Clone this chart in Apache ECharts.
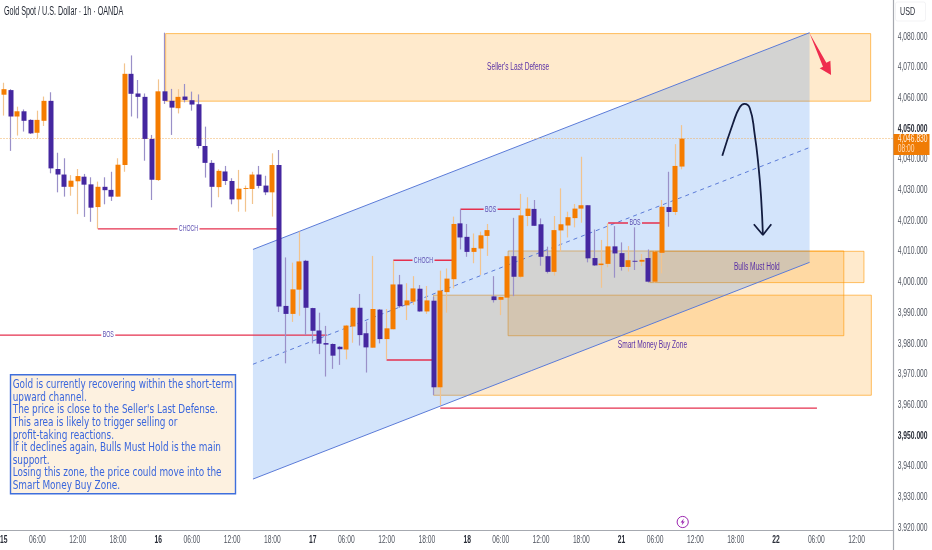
<!DOCTYPE html>
<html><head><meta charset="utf-8">
<style>html,body{margin:0;padding:0;background:#fff}#c{width:932px;height:550px}</style>
<script src="https://cdn.jsdelivr.net/npm/echarts@6/dist/echarts.min.js"></script>
</head><body><div id="c"></div>
<script>
const opens=[4061.1,4062.6,4054.0,4055.7,4052.9,4048.7,4052.6,4059.1,4036.9,4035.1,4031.1,4032.9,4034.4,4031.9,4024.5,4031.1,4030.1,4027.9,4038.2,4067.9,4061.5,4060.4,4046.7,4033.3,4062.2,4059.1,4056.7,4060.5,4059.3,4058.0,4044.4,4038.9,4031.0,4036.1,4033.0,4027.0,4030.4,4030.4,4035.1,4031.5,4029.3,4038.2,3992.3,3989.7,3997.6,4007.0,3991.6,3984.3,3980.2,3979.9,3979.0,3978.1,3985.6,3991.7,3983.4,3978.7,3991.1,3981.5,3984.7,3999.3,3992.5,3993.7,3997.9,3990.5,3994.0,3965.8,3996.8,4001.0,4019.2,4014.8,4009.9,4011.0,4015.1,3995.4,3994.3,3995.0,4008.5,4001.8,4021.6,4023.9,4018.9,4008.5,4003.4,4016.9,4018.5,4020.9,4024.0,4025.1,4007.9,4005.6,4006.0,4011.7,4009.5,4005.0,4007.0,4006.7,4007.9,4000.2,4009.6,4024.5,4022.9,4037.7];
const closes=[4062.9,4054.0,4055.7,4052.6,4048.5,4052.9,4059.1,4037.1,4035.1,4031.1,4033.1,4034.6,4031.8,4024.3,4031.1,4030.0,4027.9,4038.3,4067.9,4061.4,4060.4,4046.7,4033.4,4062.2,4059.1,4056.9,4060.4,4059.4,4057.9,4044.4,4038.9,4031.1,4036.3,4033.0,4027.0,4030.5,4030.7,4035.1,4031.4,4029.3,4038.2,3992.1,3989.7,3997.7,4006.8,3991.7,3984.2,3980.0,3979.7,3976.1,3978.2,3985.9,3991.7,3982.8,3978.8,3991.3,3981.5,3985.0,3999.3,3992.2,3994.1,3998.0,3990.5,3994.1,3965.8,3997.3,4001.2,4019.0,4014.6,4009.9,4011.2,4015.3,4017.0,3994.2,3995.2,4008.5,4001.8,4021.8,4024.0,4018.4,4008.3,4003.4,4017.0,4018.9,4021.2,4024.0,4025.1,4007.8,4005.5,4006.1,4011.7,4009.4,4005.0,4007.2,4006.7,4007.3,4000.2,4010.0,4024.6,4022.9,4037.9,4046.8];
const highs=[4065.0,4062.9,4057.2,4056.3,4053.1,4055.9,4060.5,4061.9,4042.2,4040.4,4034.9,4036.9,4035.3,4034.2,4032.8,4034.2,4036.0,4040.4,4071.3,4073.9,4065.9,4061.5,4048.0,4066.1,4081.3,4063.0,4062.9,4064.6,4062.1,4061.2,4050.7,4039.8,4036.8,4037.9,4033.9,4036.6,4031.5,4036.0,4037.9,4034.7,4042.0,4043.1,4008.1,4006.4,4016.5,4007.3,3991.7,3990.1,3985.8,3980.1,3979.2,3986.1,3991.8,3996.2,3987.2,4008.6,3991.3,3991.3,4007.0,4002.4,3999.7,4002.0,3999.1,3998.8,3995.3,4003.8,4004.5,4021.4,4023.8,4019.0,4015.9,4016.5,4019.0,4002.0,3995.3,4008.7,4021.0,4028.8,4027.7,4026.8,4020.8,4011.6,4021.6,4030.6,4023.0,4025.5,4040.9,4025.1,4017.2,4013.8,4019.2,4018.3,4013.0,4011.8,4017.9,4009.2,4010.7,4010.5,4026.8,4036.0,4045.0,4051.2];
const lows=[4054.3,4042.8,4047.8,4049.1,4048.3,4046.8,4050.9,4035.5,4029.3,4027.9,4028.2,4022.2,4021.3,4019.7,4017.4,4025.4,4026.5,4027.9,4036.0,4054.0,4053.4,4039.6,4026.8,4033.0,4058.1,4048.0,4055.0,4058.6,4055.9,4043.6,4034.1,4024.4,4027.7,4031.7,4025.4,4023.0,4023.0,4025.5,4030.6,4028.4,4021.4,3990.3,3973.6,3987.1,3989.1,3982.8,3980.1,3976.6,3969.3,3971.8,3973.1,3974.9,3980.3,3979.4,3970.6,3978.7,3980.1,3974.9,3984.7,3991.7,3987.7,3992.6,3990.4,3989.7,3963.3,3960.0,3990.1,3998.0,4010.7,4008.3,4006.2,4002.4,4008.6,3993.4,3989.3,3994.8,3995.5,4001.3,4018.3,4018.4,4005.4,4002.9,4002.2,4010.0,4014.6,4017.9,4019.4,4006.5,4005.3,3998.2,4004.9,4001.5,4003.8,4003.5,4004.0,4005.3,3999.9,3999.9,4002.9,4018.1,4021.9,4036.8];

const priceTicks=[3920,3930,3940,3950,3960,3970,3980,3990,4000,4010,4020,4030,4040,4050,4060,4070,4080];
const boldPrices=[4050,3950];
const timeTickIndex=[0,5,11,17,23,28,34,40,46,51,57,63,69,74,80,86,92,97,103,109,115,121,127];
const timeTickText=['15','06:00','12:00','18:00','16','06:00','12:00','18:00','17','06:00','12:00','18:00','18','06:00','12:00','18:00','21','06:00','12:00','18:00','22','06:00','12:00'];
const lastPrice=4046.83;
const lastPriceText='4,046.830';
const countdownText='08:00';
const barSlots=133;

// [bar from, bar to, price top, price bottom, label]
const zones=[
 [24.1,129.1,4081.0,4059.0,"Seller's Last Defense"],
 [75.1,125.1,4010.2,3982.6,""],
 [96.2,128.1,4010.1,3999.9,"Bulls Must Hold"],
 [64.0,129.2,3995.8,3963.2,"Smart Money Buy Zone"]
];
// channel: [left bar, right bar, left price, right price]
const channelUpper=[37.1,120.0,4010.7,4081.3];
const channelMiddle=[37.1,120.0,3973.3,4043.9];
const channelLower=[37.1,120.0,3935.9,4006.5];
// [bar from, bar to, price, label]
const structureLines=[
 [14,41,4017.4,'CHOCH'],
 [-17.0,48.1,3982.8,'BOS'],
 [58,67,4007.2,'CHOCH'],
 [68,77,4023.8,'BOS'],
 [90,98,4019.3,'BOS'],
 [57,64,3974.7,''],
 [65,121.1,3959.0,'']
];
const curvePath=[[107.0,4041.2],[108.6,4051.8],[109.6,4057.0],[110.3,4058.1],[111.1,4056.7],[111.8,4048.6],[112.4,4037.7],[112.8,4026.9],[113.05,4015.4]];
const curveHead=[[111.7,4018.9],[113.05,4015.4],[114.3,4018.9]];
const redArrow=[[120.0,4081.1],[122.0,4070.2],[121.5,4069.7],[123.2,4067.5],[123.1,4072.2],[122.5,4071.5]];
const noteText=["Gold is currently recovering within the short-term","upward channel.","The price is close to the Seller's Last Defense.","This area is likely to trigger selling or","profit-taking reactions.","If it declines again, Bulls Must Hold is the main","support.","Losing this zone, the price could move into the","Smart Money Buy Zone."];

const UP='#f57c00',DOWN='#4527a0',LABEL='#5a31a6',FONT='"Liberation Sans",sans-serif';
const NOTEFONT='"DejaVu Sans Condensed","DejaVu Sans",sans-serif';
const XMIN=-0.5,XMAX=132.5,YMIN=3919.15,YMAX=4091.95;
const cats=Array.from({length:barSlots},(_,i)=>String(i));
const wickData=opens.map((o,i)=>[o,closes[i],lows[i],highs[i]]);
const bodyData=opens.map((o,i)=>[o,closes[i],Math.min(o,closes[i]),Math.max(o,closes[i])]);

const fmtPrice=v=>{const s=v.toFixed(3);return s.slice(0,1)+','+s.slice(1)};
const sq=(text,x,y,font,fill,sx,align,va)=>({type:'text',x:x,y:y,scaleX:sx,style:{text:text,x:0,y:0,align:align||'center',verticalAlign:va||'middle',fill:fill,font:font}});
const chart=echarts.init(document.getElementById('c'),null,{renderer:'canvas'});
chart.setOption({
 animation:false,
 backgroundColor:'#fff',
 grid:{left:0.5,top:0,width:893,height:530.5,containLabel:false,outerBoundsMode:'none'},
 xAxis:[
  {type:'category',data:cats,boundaryGap:true,
   axisLine:{onZero:false,lineStyle:{color:'#a6a9b0',width:1.2}},axisTick:{show:false},splitLine:{show:false},axisLabel:{show:false}},
  {type:'value',min:XMIN,max:XMAX,show:false,splitLine:{show:false}}
 ],
 yAxis:{type:'value',position:'right',min:YMIN,max:YMAX,
   axisLine:{show:true,onZero:false,lineStyle:{color:'#a6a9b0',width:1.2}},axisTick:{show:false},splitLine:{show:false},axisLabel:{show:false}},
 series:[
  {type:'custom',name:'zones',xAxisIndex:1,coordinateSystem:'cartesian2d',z:1,clip:true,silent:true,
   data:zones.map(z=>z.slice(0,4)),encode:{x:[0,1],y:[2,3]},
   renderItem:(p,api)=>{
     const a=api.coord([api.value(0),api.value(2)]),b=api.coord([api.value(1),api.value(3)]);
     return {type:'rect',shape:{x:a[0],y:a[1],width:b[0]-a[0],height:b[1]-a[1]},
       style:{fill:'rgba(255,152,0,0.2)',stroke:'rgba(255,152,0,0.6)',lineWidth:1}};
   }},
  {type:'custom',name:'channel',xAxisIndex:1,coordinateSystem:'cartesian2d',z:2,clip:true,silent:true,
   data:[[channelUpper[0],channelUpper[1],channelUpper[2],channelUpper[3],channelLower[2],channelLower[3],channelMiddle[2],channelMiddle[3]]],
   encode:{x:[0,1],y:[2,3,4,5]},
   renderItem:(p,api)=>{
     const x0=api.value(0),x1=api.value(1);
     const ul=api.coord([x0,api.value(2)]),ur=api.coord([x1,api.value(3)]),ll=api.coord([x0,api.value(4)]),lr=api.coord([x1,api.value(5)]),ml=api.coord([x0,api.value(6)]),mr=api.coord([x1,api.value(7)]);
     return {type:'group',children:[
       {type:'polygon',shape:{points:[ul,ur,lr,ll]},style:{fill:'rgba(33,120,235,0.2)'}},
       {type:'line',shape:{x1:ul[0],y1:ul[1],x2:ur[0],y2:ur[1]},style:{stroke:'#5b7bd8',lineWidth:1}},
       {type:'line',shape:{x1:ll[0],y1:ll[1],x2:lr[0],y2:lr[1]},style:{stroke:'#5b7bd8',lineWidth:1}},
       {type:'line',shape:{x1:ml[0],y1:ml[1],x2:mr[0],y2:mr[1]},style:{stroke:'#5b7bd8',lineWidth:1,lineDash:[4,4]}}
     ]};
   }},
  {type:'custom',name:'zoneLabels',xAxisIndex:1,coordinateSystem:'cartesian2d',z:6,silent:true,
   data:zones.filter(z=>z[4]).map(z=>z.slice(0,4)),encode:{x:[0,1],y:[2,3]},
   renderItem:(p,api)=>{
     const z=zones.filter(z=>z[4])[p.dataIndex];
     const c=api.coord([(z[0]+z[1])/2,(z[2]+z[3])/2]);
     return sq(z[4],c[0],c[1],'10px '+FONT,LABEL,0.66);
   }},
  {type:'candlestick',name:'wicks',xAxisIndex:0,z:4,barWidth:1,silent:true,
   itemStyle:{color:'transparent',color0:'transparent',borderColor:'#f2c48e',borderColor0:'#9a90c8',borderWidth:1.2},
   data:wickData},
  {type:'candlestick',name:'bodies',xAxisIndex:0,z:5,barWidth:5.4,silent:true,
   itemStyle:{color:UP,color0:DOWN,borderColor:UP,borderColor0:DOWN,borderWidth:0},
   data:bodyData,
   markLine:{silent:true,symbol:'none',animation:false,
     lineStyle:{color:'#f0b060',type:[1,2],width:1},
     label:{show:false},
     data:[{yAxis:lastPrice}]}},
  {type:'custom',name:'structure',xAxisIndex:1,coordinateSystem:'cartesian2d',z:3,clip:true,silent:true,
   data:structureLines.map(s=>s.slice(0,3)),encode:{x:[0,1],y:2},
   renderItem:(p,api)=>{
     const s=structureLines[p.dataIndex];
     const a=api.coord([s[0],s[2]]),b=api.coord([s[1],s[2]]);
     const st={stroke:'#e5304e',lineWidth:1.4};
     if(!s[3])return {type:'line',shape:{x1:a[0],y1:a[1],x2:b[0],y2:b[1]},style:st};
     const mid=(a[0]+b[0])/2,gap=s[3]==='CHOCH'?11:7;
     return {type:'group',children:[
       {type:'line',shape:{x1:a[0],y1:a[1],x2:mid-gap,y2:a[1]},style:st},
       {type:'line',shape:{x1:mid+gap,y1:a[1],x2:b[0],y2:a[1]},style:st},
       sq(s[3],mid,a[1],'8.5px '+FONT,'#5b4db0',0.62)
     ]};
   }},
  {type:'line',name:'curve',xAxisIndex:1,z:7,data:curvePath,smooth:0.5,showSymbol:false,symbol:'none',silent:true,lineStyle:{color:'#131c3f',width:1.8}},
  {type:'line',name:'curveHead',xAxisIndex:1,z:7,data:curveHead,showSymbol:false,symbol:'none',silent:true,lineStyle:{color:'#131c3f',width:1.8}},
  {type:'custom',name:'redArrow',xAxisIndex:1,coordinateSystem:'cartesian2d',z:7,silent:true,
   data:[redArrow.flat()],encode:{x:[0,2,4,6,8,10],y:[1,3,5,7,9,11]},
   renderItem:(p,api)=>({type:'polygon',shape:{points:redArrow.map(q=>api.coord(q))},style:{fill:'#ef2d4e'}})},
  {type:'custom',name:'priceTickLabels',xAxisIndex:1,coordinateSystem:'cartesian2d',z:10,silent:true,clip:false,
   data:priceTicks.map(v=>[XMAX,v]),encode:{x:0,y:1},
   renderItem:(p,api)=>{
     const v=api.value(1),c=api.coord([XMAX,v]),b=boldPrices.includes(v);
     return sq(fmtPrice(v),c[0]+4.2,c[1],(b?'bold ':'')+'10.5px '+FONT,b?'#2a2e39':'#4f545f',0.64,'left');
   }},
  {type:'custom',name:'timeTickLabels',xAxisIndex:1,coordinateSystem:'cartesian2d',z:10,silent:true,clip:false,
   data:timeTickIndex.map(v=>[v,YMIN]),encode:{x:0,y:1},
   renderItem:(p,api)=>{
     const c=api.coord([api.value(0),YMIN]),t=timeTickText[p.dataIndex],b=t.length<3;
     return sq(t,c[0],c[1]+9.5,(b?'bold ':'')+'10.5px '+FONT,b?'#2a2e39':'#4f545f',0.64);
   }},
  {type:'custom',name:'lastPriceTag',xAxisIndex:1,coordinateSystem:'cartesian2d',z:12,silent:true,clip:false,
   data:[[XMAX,lastPrice]],encode:{x:0,y:1},
   renderItem:(p,api)=>{
     const c=api.coord([XMAX,api.value(1)]);
     return {type:'group',children:[
       {type:'rect',shape:{x:c[0],y:c[1]-4.5,width:36,height:21},style:{fill:'#f07c04'}},
       sq(lastPriceText,c[0]+4.2,c[1]+0.8,'10.5px '+FONT,'#fff1e0',0.64,'left'),
       sq(countdownText,c[0]+4.2,c[1]+10.5,'10.5px '+FONT,'#ffdcb8',0.64,'left')
     ]};
   }}
 ],
 graphic:[
  {type:'text',x:4,y:5.5,scaleX:0.6,z:20,silent:true,style:{text:'Gold Spot / U.S. Dollar · 1h · OANDA',fill:'#1f2430',font:'12px '+FONT}},
  {type:'rect',z:20,silent:true,shape:{x:894.6,y:531.2,width:38,height:19},style:{fill:'#fff'}},
  {type:'line',z:21,silent:true,shape:{x1:893.5,y1:530,x2:893.5,y2:550},style:{stroke:'#a6a9b0',lineWidth:1.2}},
  {type:'rect',z:20,silent:true,shape:{x:895.5,y:2,width:30,height:19,r:2},style:{fill:'#fff',stroke:'#f3f3f5',lineWidth:1}},
  {type:'text',z:21,silent:true,x:900,y:7,scaleX:0.68,style:{text:'USD',fill:'#2a2e39',font:'10.5px '+FONT}},
  {type:'rect',z:20,silent:true,shape:{x:10.5,y:374.8,width:225,height:119},style:{fill:'#fdf1e0',stroke:'#3f6fdc',lineWidth:1.4}},
  {type:'text',z:21,silent:true,x:12.7,y:379,scaleX:0.86,style:{text:noteText.join('\n'),fill:'#3a66dc',font:'11.5px '+NOTEFONT,lineHeight:12.6}},
  {type:'circle',z:20,silent:true,shape:{cx:682.7,cy:522,r:5.6},style:{fill:'#fff',stroke:'#9c27b0',lineWidth:1}},
  {type:'polygon',z:21,silent:true,shape:{points:[[683.8,518.6],[680.6,522.6],[682.5,522.6],[681.6,525.4],[684.8,521.4],[682.9,521.4]]},style:{fill:'#9c27b0'}}
 ]
});
</script></body></html>
